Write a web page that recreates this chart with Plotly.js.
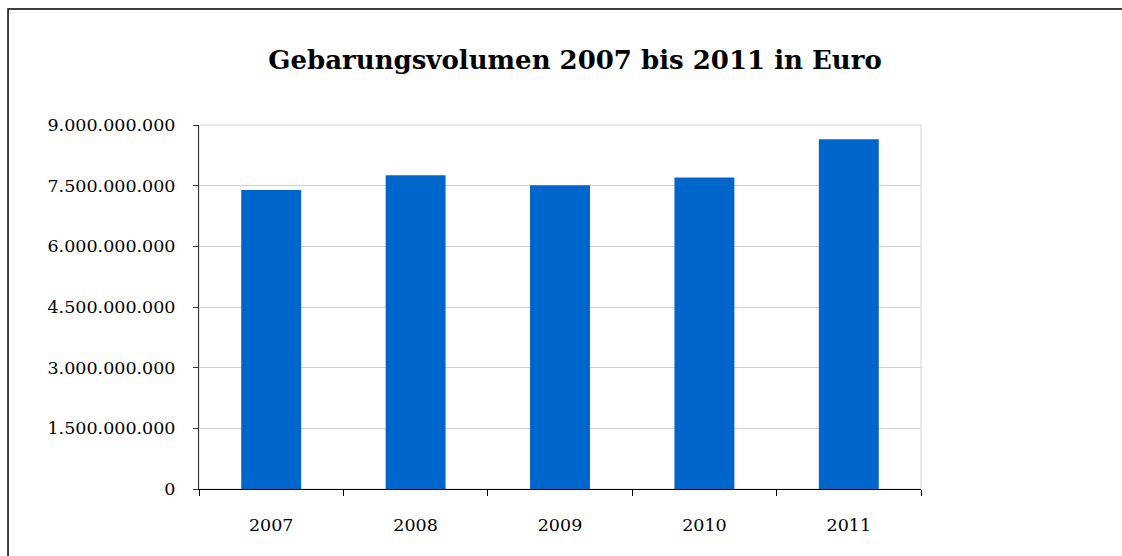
<!DOCTYPE html>
<html>
<head>
<meta charset="utf-8">
<script src="https://cdn.plot.ly/plotly-3.0.1.min.js"></script>
<style>
  html, body { margin: 0; padding: 0; background: #fff; }
  #chart { width: 1122px; height: 556px; }
</style>
</head>
<body>
<div id="chart"></div>
<script>
// Gebarungsvolumen je Jahr (Euro)
const jahre = ["2007", "2008", "2009", "2010", "2011"];
const volumen = [7390000000, 7760000000, 7510000000, 7700000000, 8650000000];
const yTicks = [0, 1500000000, 3000000000, 4500000000, 6000000000, 7500000000, 9000000000];
const yTickText = ["0", "1.500.000.000", "3.000.000.000", "4.500.000.000",
                   "6.000.000.000", "7.500.000.000", "9.000.000.000"];

const serif = "DejaVu Serif, Liberation Serif, serif";

const data = [{
  x: jahre,
  y: volumen,
  type: "bar",
  marker: { color: "#0066cc" },
  hoverinfo: "x+y"
}];

const layout = {
  width: 1122,
  height: 556,
  margin: { l: 199, r: 201, t: 125, b: 67 },
  paper_bgcolor: "#fff",
  plot_bgcolor: "#fff",
  showlegend: false,
  bargap: 0.585,
  font: { family: serif, size: 17.5, color: "#000" },
  title: {
    text: "<b>Gebarungsvolumen 2007 bis 2011 in Euro</b>",
    font: { family: serif, size: 26, color: "#000" },
    x: 0.5125,
    xanchor: "center",
    y: 0.892,
    yanchor: "middle"
  },
  xaxis: {
    type: "category",
    showgrid: false,
    showline: true,
    linecolor: "#000",
    linewidth: 1,
    ticks: "outside",
    tickson: "boundaries",
    ticklen: 6,
    tickcolor: "#000",
    ticklabelstandoff: 20,
    zeroline: false,
    tickfont: { family: serif, size: 17.5, color: "#000" }
  },
  yaxis: {
    range: [0, 9000000000],
    tickvals: yTicks,
    ticktext: yTickText,
    showgrid: true,
    gridcolor: "#d0d0d0",
    showline: true,
    linecolor: "#333",
    linewidth: 1,
    ticks: "outside",
    ticklen: 5,
    tickcolor: "#333",
    ticklabelstandoff: 14,
    zeroline: false,
    tickfont: { family: serif, size: 17.5, color: "#000" }
  },
  shapes: [
    // gray frame around the plot area
    { type: "rect", xref: "paper", yref: "paper", x0: 0, x1: 1, y0: 0, y1: 1,
      line: { color: "#d0d0d0", width: 1 }, layer: "below" },
    // outer chart border, only left and top edges visible
    { type: "path", xref: "paper", yref: "paper",
      path: "M -0.2645,-0.25 L -0.2645,1.3187 L 1.35,1.3187",
      line: { color: "#000", width: 1.5 } }
  ]
};

Plotly.newPlot("chart", data, layout, { displayModeBar: false, staticPlot: true });
</script>
</body>
</html>
